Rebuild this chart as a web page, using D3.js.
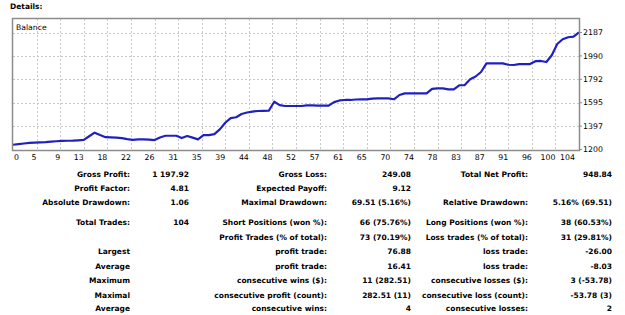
<!DOCTYPE html>
<html>
<head>
<meta charset="utf-8">
<script src="https://cdn.jsdelivr.net/npm/d3@7"></script>
<style>
  body { margin: 0; background: #fff; }
  svg { display: block; }
</style>
</head>
<body>
<svg id="chart" width="625" height="315"></svg>
<script>
// balance after each trade (0 = start)
const balance = [
  1240, 1246, 1251, 1256, 1258, 1260, 1262, 1266, 1270, 1273,
  1274, 1275, 1278, 1282, 1312, 1342, 1322, 1304, 1302, 1301,
  1296, 1288, 1282, 1286, 1286, 1283, 1280, 1302, 1316, 1316,
  1316, 1297, 1314, 1300, 1286, 1322, 1322, 1330, 1370, 1426,
  1465, 1472, 1500, 1512, 1520, 1525, 1526, 1527, 1603, 1575,
  1567, 1567, 1567, 1567, 1573, 1572, 1571, 1570, 1570, 1600,
  1614, 1618, 1618, 1622, 1623, 1623, 1630, 1632, 1632, 1632,
  1624, 1660, 1674, 1674, 1674, 1674, 1674, 1712, 1716, 1716,
  1708, 1708, 1742, 1744, 1792, 1816, 1854, 1927, 1927, 1927,
  1927, 1915, 1913, 1920, 1921, 1921, 1945, 1947, 1938, 1995,
  2090, 2130, 2147, 2152, 2189
]
const xTickLabels = ["0", "5", "9", "13", "18", "22", "26", "31", "35", "39", "44", "48", "52",
  "57", "61", "65", "70", "74", "78", "83", "87", "91", "96", "100", "104"]
const yTickValues = [1200, 1397.4, 1594.8, 1792.2, 1989.6, 2187]
const yTickLabels = ["1200", "1397", "1595", "1792", "1990", "2187"]

// report table: label / value pairs for three columns
const col1Labels = ["Gross Profit:", "Profit Factor:", "Absolute Drawdown:", "Total Trades:", "", "Largest", "Average", "Maximum", "Maximal", "Average"]
const col1Values = ["1 197.92", "4.81", "1.06", "104", "", "", "", "", "", ""]
const col2Labels = ["Gross Loss:", "Expected Payoff:", "Maximal Drawdown:", "Short Positions (won %):", "Profit Trades (% of total):",
  "profit trade:", "profit trade:", "consecutive wins ($):", "consecutive profit (count):", "consecutive wins:"]
const col2Values = ["249.08", "9.12", "69.51 (5.16%)", "66 (75.76%)", "73 (70.19%)", "76.88", "16.41", "11 (282.51)", "282.51 (11)", "4"]
const col3Labels = ["Total Net Profit:", "", "Relative Drawdown:", "Long Positions (won %):", "Loss trades (% of total):",
  "loss trade:", "loss trade:", "consecutive losses ($):", "consecutive loss (count):", "consecutive losses:"]
const col3Values = ["948.84", "", "5.16% (69.51)", "38 (60.53%)", "31 (29.81%)", "-26.00", "-8.03", "3 (-53.78)", "-53.78 (3)", "2"]

const svg = d3.select("#chart")
const plot = { left: 13, top: 19, right: 579, bottom: 150 }
const nTicks = xTickLabels.length - 1

const x = d3.scaleLinear().domain([0, balance.length - 1]).range([plot.left, plot.right])
const y = d3.scaleLinear().domain([1196, 2301]).range([plot.bottom, plot.top])

const tickFont = "DejaVu Sans, Verdana, sans-serif"
const tableFont = "DejaVu Sans, Tahoma, sans-serif"

svg.append("text")
  .attr("x", 10).attr("y", 8.5)
  .attr("font-family", tableFont).attr("font-weight", "bold").attr("font-size", "7.5px")
  .attr("fill", "#000")
  .text("Details:")

// grid
const grid = svg.append("g").attr("stroke", "#c8c8c8").attr("stroke-dasharray", "2,2").attr("stroke-width", 1)
d3.range(1, nTicks).forEach(k => {
  const gx = Math.round(x(k * (balance.length - 1) / nTicks)) + 0.5
  grid.append("line").attr("x1", gx).attr("x2", gx).attr("y1", plot.top).attr("y2", plot.bottom)
})
yTickValues.slice(1).forEach(v => {
  const gy = Math.round(y(v)) + 0.5
  grid.append("line").attr("x1", plot.left).attr("x2", plot.right).attr("y1", gy).attr("y2", gy)
})

// balance curve
const line = d3.line().x((d, i) => x(i)).y(d => y(d))
svg.append("path")
  .datum(balance)
  .attr("fill", "none")
  .attr("stroke", "#2020c0")
  .attr("stroke-width", 2.2)
  .attr("stroke-linejoin", "round")
  .attr("d", line)

// frame
svg.append("rect")
  .attr("x", plot.left - 0.5).attr("y", plot.top - 0.5)
  .attr("width", plot.right - plot.left + 1).attr("height", plot.bottom - plot.top + 1)
  .attr("fill", "none").attr("stroke", "#8c8c8c").attr("stroke-width", 1.5)

svg.append("text")
  .attr("x", 16).attr("y", 29.5)
  .attr("font-family", tickFont).attr("font-size", "7.7px").attr("fill", "#000")
  .text("Balance")

// y axis on the right
yTickValues.forEach((v, i) => {
  const gy = y(v)
  svg.append("line").attr("x1", plot.right).attr("x2", plot.right + 3)
    .attr("y1", gy).attr("y2", gy).attr("stroke", "#8c8c8c")
  svg.append("text")
    .attr("x", plot.right + 4).attr("y", gy).attr("dy", "0.35em")
    .attr("font-family", tickFont).attr("font-size", "7.8px").attr("fill", "#000")
    .text(yTickLabels[i])
})

// x labels, right-aligned to their grid line
xTickLabels.forEach((lab, k) => {
  let gx = x(k * (balance.length - 1) / nTicks)
  let anchor = "end"
  if (k === 0) { gx = plot.left + 1; anchor = "start" }
  if (k === nTicks) gx -= 4
  svg.append("text")
    .attr("x", gx).attr("y", 159.5)
    .attr("text-anchor", anchor)
    .attr("font-family", tickFont).attr("font-size", "7.8px").attr("fill", "#000")
    .text(lab)
})

// table
const rowY = [174, 188.3, 202.3, 222.7, 237, 251, 266, 280.3, 295, 308.7]
const colX = [130, 189, 327, 411, 528, 612]
const cols = [col1Labels, col1Values, col2Labels, col2Values, col3Labels, col3Values]
const table = svg.append("g")
  .attr("font-family", tableFont).attr("font-weight", "bold").attr("font-size", "7.5px")
  .attr("fill", "#000").attr("text-anchor", "end")
cols.forEach((col, c) => {
  col.forEach((t, r) => {
    if (!t) return
    table.append("text").attr("x", colX[c]).attr("y", rowY[r]).attr("dy", "0.35em").text(t)
  })
})
</script>
</body>
</html>
